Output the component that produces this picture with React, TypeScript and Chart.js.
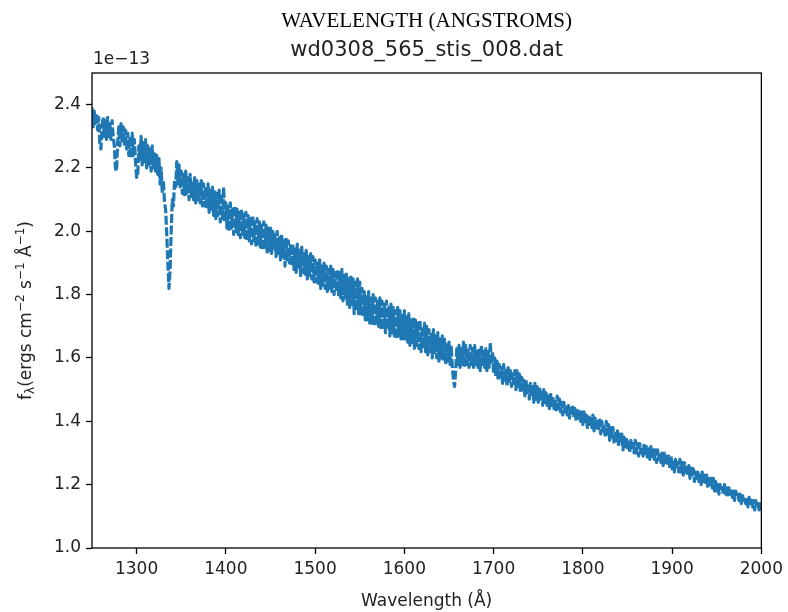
import { useEffect, useRef } from 'react';
import { Chart, registerables } from 'chart.js';

Chart.register(...registerables);

const TITLE_TOP = 'WAVELENGTH (ANGSTROMS)';
const TITLE_MAIN = 'wd0308_565_stis_008.dat';
const X_LABEL = 'Wavelength (Å)';
const OFFSET_TEXT = '1e\u221213';

const X_TICKS = [1300, 1400, 1500, 1600, 1700, 1800, 1900, 2000];
const Y_TICKS = [1.0, 1.2, 1.4, 1.6, 1.8, 2.0, 2.2, 2.4];

// Wavelength grid of the spectrum (Å): starts at 1250, sampled every 1.25 Å
const WAVE_START = 1250;
const WAVE_STEP = 1.25;

// Flux in units of 1e-13 ergs cm^-2 s^-1 Å^-1 (one row = 25 Å)
const FLUX = [
  2.39, 2.33, 2.38, 2.34, 2.37, 2.32, 2.36, 2.28, 2.26, 2.33, 2.36, 2.30, 2.35, 2.29, 2.36, 2.30, 2.34, 2.29, 2.35, 2.30,
  2.27, 2.20, 2.19, 2.28, 2.33, 2.27, 2.34, 2.28, 2.33, 2.27, 2.32, 2.26, 2.31, 2.24, 2.30, 2.23, 2.31, 2.24, 2.29, 2.22,
  2.17, 2.18, 2.27, 2.22, 2.30, 2.21, 2.28, 2.22, 2.29, 2.20, 2.27, 2.21, 2.26, 2.19, 2.27, 2.20, 2.25, 2.19, 2.24, 2.18,
  2.23, 2.15, 2.20, 2.12, 2.16, 2.09, 2.07, 1.99, 1.90, 1.82, 1.88, 2.00, 2.10, 2.08, 2.16, 2.14, 2.22, 2.15, 2.21, 2.14,
  2.19, 2.12, 2.18, 2.11, 2.19, 2.12, 2.17, 2.10, 2.18, 2.11, 2.16, 2.10, 2.17, 2.09, 2.16, 2.10, 2.15, 2.09, 2.16, 2.08,
  2.15, 2.08, 2.14, 2.07, 2.15, 2.06, 2.13, 2.07, 2.14, 2.05, 2.13, 2.04, 2.12, 2.05, 2.13, 2.03, 2.12, 2.04, 2.14, 2.03,
  2.09, 2.01, 2.08, 2.00, 2.09, 2.01, 2.07, 1.99, 2.08, 2.00, 2.07, 1.99, 2.06, 1.98, 2.07, 1.99, 2.06, 1.98, 2.06, 1.97,
  2.05, 1.97, 2.04, 1.96, 2.05, 1.97, 2.03, 1.95, 2.04, 1.96, 2.03, 1.95, 2.02, 1.94, 2.03, 1.95, 2.02, 1.93, 2.01, 1.94,
  2.01, 1.93, 2.00, 1.94, 1.99, 1.92, 2.00, 1.93, 1.98, 1.91, 1.99, 1.92, 1.97, 1.89, 1.98, 1.91, 1.97, 1.90, 1.96, 1.89,
  1.96, 1.88, 1.95, 1.87, 1.96, 1.88, 1.94, 1.86, 1.95, 1.87, 1.93, 1.86, 1.94, 1.85, 1.92, 1.86, 1.93, 1.85, 1.92, 1.84,
  1.91, 1.84, 1.90, 1.83, 1.91, 1.82, 1.89, 1.83, 1.90, 1.82, 1.89, 1.81, 1.88, 1.82, 1.89, 1.81, 1.88, 1.80, 1.87, 1.81,
  1.88, 1.80, 1.87, 1.79, 1.88, 1.78, 1.86, 1.79, 1.87, 1.77, 1.85, 1.76, 1.86, 1.77, 1.85, 1.74, 1.84, 1.75, 1.85, 1.74,
  1.84, 1.74, 1.82, 1.73, 1.81, 1.72, 1.80, 1.72, 1.81, 1.71, 1.79, 1.71, 1.80, 1.70, 1.79, 1.71, 1.78, 1.70, 1.79, 1.69,
  1.78, 1.69, 1.77, 1.68, 1.78, 1.69, 1.76, 1.67, 1.77, 1.68, 1.76, 1.67, 1.75, 1.66, 1.76, 1.67, 1.75, 1.66, 1.74, 1.66,
  1.75, 1.66, 1.73, 1.65, 1.74, 1.64, 1.72, 1.65, 1.73, 1.63, 1.72, 1.64, 1.71, 1.63, 1.72, 1.62, 1.70, 1.63, 1.71, 1.62,
  1.70, 1.61, 1.69, 1.62, 1.68, 1.60, 1.69, 1.61, 1.67, 1.60, 1.68, 1.59, 1.66, 1.60, 1.67, 1.59, 1.66, 1.58, 1.65, 1.59,
  1.65, 1.58, 1.64, 1.57, 1.53, 1.51, 1.56, 1.63, 1.58, 1.64, 1.57, 1.63, 1.58, 1.65, 1.57, 1.64, 1.58, 1.63, 1.57, 1.64,
  1.58, 1.63, 1.57, 1.64, 1.58, 1.62, 1.57, 1.63, 1.56, 1.64, 1.58, 1.62, 1.57, 1.63, 1.56, 1.62, 1.57, 1.65, 1.58, 1.62,
  1.55, 1.60, 1.54, 1.59, 1.53, 1.58, 1.54, 1.57, 1.52, 1.58, 1.53, 1.56, 1.51, 1.57, 1.52, 1.56, 1.51, 1.55, 1.52, 1.56,
  1.50, 1.56, 1.51, 1.55, 1.49, 1.54, 1.50, 1.53, 1.48, 1.53, 1.49, 1.52, 1.47, 1.52, 1.48, 1.51, 1.46, 1.52, 1.47, 1.51,
  1.46, 1.51, 1.47, 1.50, 1.45, 1.50, 1.46, 1.49, 1.45, 1.48, 1.44, 1.49, 1.45, 1.48, 1.44, 1.47, 1.43, 1.48, 1.44, 1.47,
  1.43, 1.46, 1.42, 1.46, 1.43, 1.45, 1.42, 1.45, 1.41, 1.44, 1.42, 1.45, 1.41, 1.44, 1.40, 1.44, 1.41, 1.43, 1.40, 1.43,
  1.39, 1.43, 1.40, 1.42, 1.38, 1.42, 1.39, 1.41, 1.38, 1.42, 1.37, 1.41, 1.38, 1.40, 1.37, 1.41, 1.36, 1.40, 1.37, 1.39,
  1.35, 1.40, 1.36, 1.39, 1.34, 1.38, 1.35, 1.38, 1.33, 1.37, 1.34, 1.37, 1.32, 1.36, 1.33, 1.36, 1.31, 1.35, 1.32, 1.35,
  1.31, 1.34, 1.30, 1.34, 1.31, 1.33, 1.30, 1.34, 1.30, 1.33, 1.29, 1.33, 1.30, 1.32, 1.29, 1.33, 1.29, 1.32, 1.28, 1.32,
  1.28, 1.32, 1.29, 1.31, 1.28, 1.31, 1.27, 1.31, 1.28, 1.30, 1.27, 1.30, 1.26, 1.30, 1.27, 1.29, 1.26, 1.29, 1.25, 1.29,
  1.25, 1.28, 1.24, 1.28, 1.25, 1.27, 1.24, 1.28, 1.24, 1.27, 1.23, 1.27, 1.24, 1.26, 1.23, 1.26, 1.22, 1.26, 1.23, 1.25,
  1.21, 1.24, 1.22, 1.24, 1.21, 1.23, 1.20, 1.24, 1.21, 1.23, 1.20, 1.23, 1.19, 1.22, 1.20, 1.22, 1.19, 1.22, 1.18, 1.21,
  1.18, 1.20, 1.17, 1.20, 1.18, 1.19, 1.17, 1.20, 1.17, 1.19, 1.16, 1.19, 1.17, 1.18, 1.16, 1.18, 1.15, 1.18, 1.16, 1.17,
  1.15, 1.17, 1.14, 1.17, 1.15, 1.16, 1.14, 1.16, 1.13, 1.16, 1.14, 1.15, 1.13, 1.15, 1.12, 1.15, 1.13, 1.14, 1.12, 1.14,
  1.12,
];

const SANS = "'DejaVu Sans', sans-serif";
const TICK_SIZE = 17;

const decorPlugin = {
  id: 'decor',
  afterDraw(chart: any) {
    const { ctx, chartArea } = chart;
    const { left, right, top, bottom } = chartArea;
    const cx = (left + right) / 2;
    ctx.save();
    // frame
    ctx.strokeStyle = '#000';
    ctx.lineWidth = 1.3;
    ctx.strokeRect(left, top, right - left, bottom - top);

    ctx.fillStyle = '#000';
    ctx.textAlign = 'center';
    ctx.textBaseline = 'alphabetic';
    ctx.font = "21px 'Liberation Serif', serif";
    ctx.fillText(TITLE_TOP, cx, 27);
    ctx.fillStyle = '#222';
    ctx.font = `21px ${SANS}`;
    ctx.fillText(TITLE_MAIN, cx, 56);

    ctx.textAlign = 'left';
    ctx.font = `${TICK_SIZE}px ${SANS}`;
    ctx.fillText(OFFSET_TEXT, left + 1, 64);

    ctx.textAlign = 'center';
    ctx.fillText(X_LABEL, cx, 606);

    // y label with sub/superscripts
    const segs = [
      { t: 'f', s: TICK_SIZE, dy: 0 },
      { t: 'λ', s: 12, dy: 3 },
      { t: '(ergs cm', s: TICK_SIZE, dy: 0 },
      { t: '\u22122', s: 12, dy: -7 },
      { t: ' s', s: TICK_SIZE, dy: 0 },
      { t: '\u22121', s: 12, dy: -7 },
      { t: ' Å', s: TICK_SIZE, dy: 0 },
      { t: '\u22121', s: 12, dy: -7 },
      { t: ')', s: TICK_SIZE, dy: 0 },
    ];
    let total = 0;
    const widths = segs.map((g) => {
      ctx.font = `${g.s}px ${SANS}`;
      const w = ctx.measureText(g.t).width;
      total += w;
      return w;
    });
    ctx.translate(31, (top + bottom) / 2);
    ctx.rotate(-Math.PI / 2);
    ctx.textAlign = 'left';
    let x = -total / 2;
    segs.forEach((g, i) => {
      ctx.font = `${g.s}px ${SANS}`;
      ctx.fillText(g.t, x, g.dy);
      x += widths[i];
    });
    ctx.restore();
  },
};

export default function App() {
  const ref = useRef<HTMLCanvasElement | null>(null);
  useEffect(() => {
    document.body.style.margin = '0';
    const data = FLUX.map((f, i) => ({ x: WAVE_START + i * WAVE_STEP, y: f }));
    const chart = new Chart(ref.current as HTMLCanvasElement, {
      type: 'line',
      data: {
        datasets: [
          {
            data,
            borderColor: '#1f77b4',
            borderWidth: 3.2,
            borderDash: [9, 2.5],
            borderJoinStyle: 'round',
            borderCapStyle: 'butt',
            pointRadius: 0,
            tension: 0,
            fill: false,
          },
        ],
      },
      options: {
        responsive: false,
        animation: false,
        devicePixelRatio: 1,
        layout: { padding: { top: 73, right: 26, left: 0, bottom: 0 } },
        plugins: { legend: { display: false }, tooltip: { enabled: false }, title: { display: false } },
        scales: {
          x: {
            type: 'linear',
            min: 1250,
            max: 2000,
            afterBuildTicks: (s: any) => {
              s.ticks = X_TICKS.map((v) => ({ value: v }));
            },
            afterFit: (s: any) => {
              s.height = 64;
            },
            grid: { display: true, drawOnChartArea: false, drawTicks: true, tickLength: 6, tickWidth: 1.3, tickColor: '#000' },
            border: { display: false },
            ticks: {
              font: { family: SANS, size: TICK_SIZE },
              color: '#222',
              padding: 5,
              maxRotation: 0,
              autoSkip: false,
              callback: (v: any) => String(v),
            },
          },
          y: {
            type: 'linear',
            min: 1.0,
            max: 2.5,
            afterBuildTicks: (s: any) => {
              s.ticks = Y_TICKS.map((v) => ({ value: v }));
            },
            afterFit: (s: any) => {
              s.width = 92;
            },
            grid: { display: true, drawOnChartArea: false, drawTicks: true, tickLength: 6, tickWidth: 1.3, tickColor: '#000' },
            border: { display: false },
            ticks: {
              font: { family: SANS, size: TICK_SIZE },
              color: '#222',
              padding: 5,
              autoSkip: false,
              callback: (v: any) => Number(v).toFixed(1),
            },
          },
        },
      },
      plugins: [decorPlugin],
    });
    return () => chart.destroy();
  }, []);
  return <canvas ref={ref} width={788} height={612} style={{ display: 'block' }} />;
}
